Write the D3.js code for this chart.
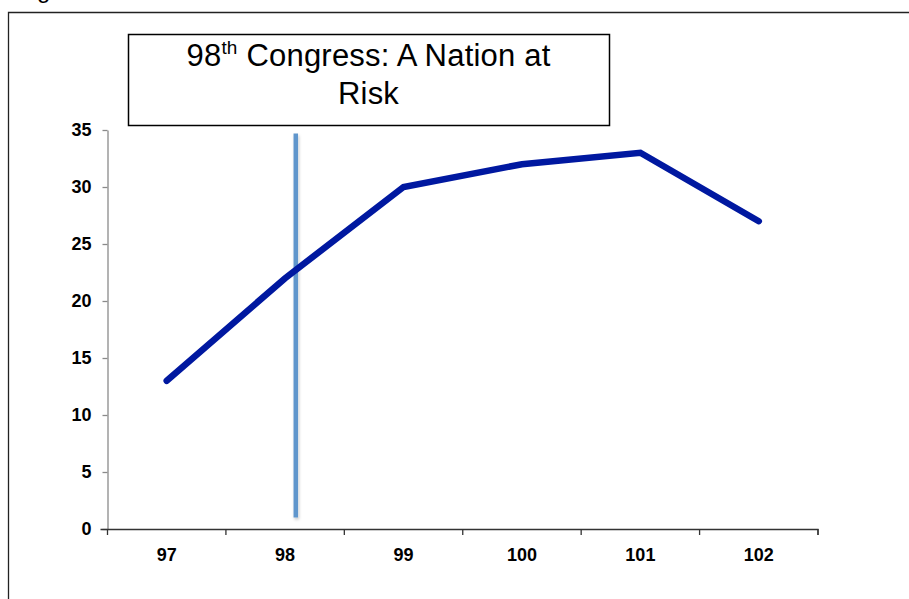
<!DOCTYPE html>
<html>
<head>
<meta charset="utf-8">
<script src="https://cdn.jsdelivr.net/npm/d3@7"></script>
<style>
  html, body { margin: 0; padding: 0; background: #fff; }
  svg { display: block; font-family: "Liberation Sans", Arial, sans-serif; }
</style>
</head>
<body>
<svg id="chart" width="909" height="599"></svg>
<script>
// ---- data ----
const categories = ["97", "98", "99", "100", "101", "102"];
const values = [13, 22, 30, 32, 33, 27];
const yTicks = [0, 5, 10, 15, 20, 25, 30, 35];
const markerAt = [1.09];           // category-index position of the vertical marker (just right of "98")
const markerRange = [1, 34.7];     // vertical extent of the marker, in y units
const titleLines = ["98|th| Congress: A Nation at", "Risk"];

// ---- layout ----
const svg = d3.select("#chart");
const W = 909, H = 599;
const plot = { left: 107.5, right: 818, top: 130, bottom: 529 };
const FONT = "Liberation Sans, Arial, sans-serif";

// outer frame (cut by the page edges)
svg.append("path")
  .attr("d", `M8.5,${H + 2} V12.5 H${W + 2}`)
  .attr("fill", "none").attr("stroke", "#222").attr("stroke-width", 1.3);

// cut-off heading text at very top
svg.append("text").attr("x", 17).attr("y", -2)
  .attr("font-size", 24).attr("fill", "#000").text("Fig");

const x = d3.scaleBand().domain(categories).range([plot.left, plot.right]).padding(0);
const xi = d3.scaleLinear().domain([-0.5, categories.length - 0.5]).range([plot.left, plot.right]);
const y = d3.scaleLinear().domain([0, 35]).range([plot.bottom, plot.top]);

// y axis
const yAxis = svg.append("g").attr("transform", `translate(${plot.left},0)`)
  .call(d3.axisLeft(y).tickValues(yTicks).tickSize(5).tickPadding(11).tickSizeOuter(0));
yAxis.attr("font-size", 18).attr("font-family", FONT);
yAxis.select(".domain").attr("stroke", "#8a8a8a").attr("stroke-width", 1.3);
yAxis.selectAll(".tick line").attr("stroke", "#8a8a8a").attr("stroke-width", 1.3);
yAxis.selectAll(".tick text").style("font-size", "18px").attr("font-weight", "bold")
  .attr("fill", "#000");

// x axis
const xAxis = svg.append("g").attr("transform", `translate(0,${plot.bottom})`)
  .call(d3.axisBottom(x).tickSize(0).tickPadding(19));
xAxis.attr("font-size", 18).attr("font-family", FONT);
xAxis.select(".domain").attr("stroke", "#333").attr("stroke-width", 1.3)
  .attr("d", `M${plot.left - 7},0.5H${plot.right}V6`);
xAxis.selectAll(".tick text").style("font-size", "18px").attr("font-weight", "bold")
  .attr("fill", "#000");
// category boundary ticks
const bounds = d3.range(categories.length + 1).map(i => i - 0.5);
svg.append("g").selectAll("line").data(bounds).join("line")
  .attr("x1", d => xi(d)).attr("x2", d => xi(d))
  .attr("y1", plot.bottom).attr("y2", plot.bottom + 6)
  .attr("stroke", "#333").attr("stroke-width", 1.3);

// vertical marker with soft shadow
const defs = svg.append("defs");
const f = defs.append("filter").attr("id", "shadow").attr("filterUnits", "userSpaceOnUse")
  .attr("x", 0).attr("y", 0).attr("width", W).attr("height", H);
f.append("feDropShadow").attr("dx", 1).attr("dy", 2).attr("stdDeviation", 1.5)
  .attr("flood-color", "#000").attr("flood-opacity", 0.22);
svg.append("g").selectAll("line").data(markerAt).join("line")
  .attr("x1", d => xi(d)).attr("x2", d => xi(d))
  .attr("y1", y(markerRange[1])).attr("y2", y(markerRange[0]))
  .attr("stroke", "#6196cc").attr("stroke-width", 4.5)
  .attr("filter", "url(#shadow)");

// data line
const line = d3.line()
  .x((d, i) => x(categories[i]) + x.bandwidth() / 2)
  .y(d => y(d));
svg.append("path").datum(values)
  .attr("d", line)
  .attr("fill", "none").attr("stroke", "#0018a0").attr("stroke-width", 6.5)
  .attr("stroke-linecap", "round").attr("stroke-linejoin", "miter");

// title box
const box = { x: 128, y: 34, w: 481, h: 91 };
svg.append("rect").attr("x", box.x + 0.5).attr("y", box.y + 0.5)
  .attr("width", box.w).attr("height", box.h)
  .attr("fill", "#fff").attr("stroke", "#000").attr("stroke-width", 1.5);
const cx = box.x + box.w / 2;
titleLines.forEach((ln, i) => {
  const t = svg.append("text").attr("x", cx).attr("y", 66 + i * 38)
    .attr("text-anchor", "middle").attr("font-size", 31).attr("letter-spacing", 0.2)
    .attr("fill", "#000");
  ln.split("|").forEach((part, j) => {
    if (j === 1) {
      t.append("tspan").attr("font-size", 19).attr("dy", -12).text(part);
    } else if (j === 2) {
      t.append("tspan").attr("dy", 12).text(part);
    } else {
      t.append("tspan").text(part);
    }
  });
});
</script>
</body>
</html>
